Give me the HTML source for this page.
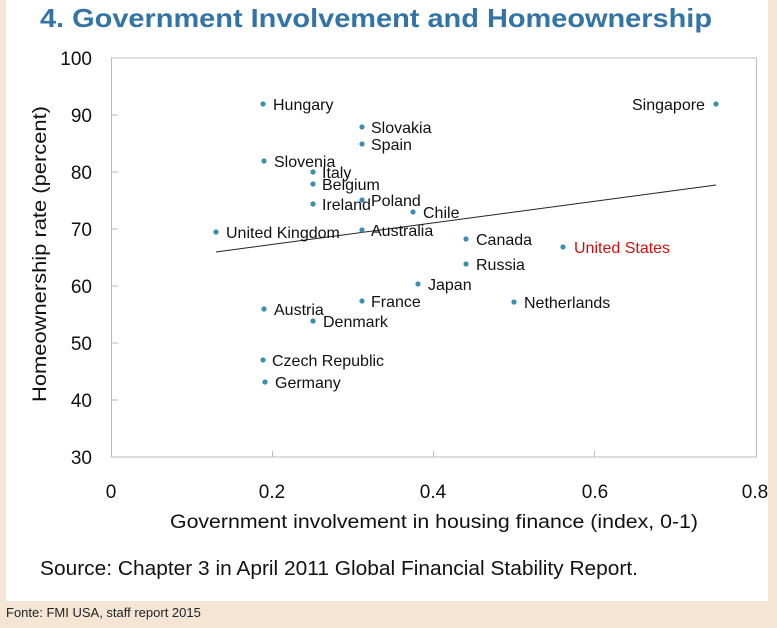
<!DOCTYPE html>
<html><head><meta charset="utf-8"><style>
html,body{margin:0;padding:0;background:#f5e5d5;}
svg{display:block}
</style></head><body>
<svg width="777" height="628" viewBox="0 0 777 628" xmlns="http://www.w3.org/2000/svg" font-family="Liberation Sans, sans-serif">
<rect x="0" y="0" width="777" height="628" fill="#f5e5d5"/>
<rect x="6" y="0" width="762" height="601" fill="#fff"/>
<text x="40" y="27" font-size="26" font-weight="bold" fill="#3374a6" textLength="672" lengthAdjust="spacingAndGlyphs">4. Government Involvement and Homeownership</text>
<rect x="111.5" y="58" width="645" height="399" fill="none" stroke="#bbb" stroke-width="1"/>
<g stroke="#bbb">
<line x1="111.5" y1="115" x2="118" y2="115"/><line x1="111.5" y1="172" x2="118" y2="172"/><line x1="111.5" y1="229" x2="118" y2="229"/><line x1="111.5" y1="286" x2="118" y2="286"/><line x1="111.5" y1="343" x2="118" y2="343"/><line x1="111.5" y1="400" x2="118" y2="400"/>
<line x1="272.5" y1="457" x2="272.5" y2="451"/><line x1="433.5" y1="457" x2="433.5" y2="451"/><line x1="594.5" y1="457" x2="594.5" y2="451"/>
</g>
<g font-size="19" fill="#111" text-anchor="end">
<text x="92" y="65">100</text><text x="92" y="122">90</text><text x="92" y="179">80</text><text x="92" y="236">70</text><text x="92" y="293">60</text><text x="92" y="350">50</text><text x="92" y="407">40</text><text x="92" y="464">30</text>
</g>
<g font-size="19" fill="#111" text-anchor="middle">
<text x="111" y="498">0</text><text x="272" y="498">0.2</text><text x="433" y="498">0.4</text><text x="595" y="498">0.6</text><text x="755" y="498">0.8</text>
</g>
<text transform="translate(46,254) rotate(-90)" font-size="19" fill="#111" text-anchor="middle" textLength="296" lengthAdjust="spacingAndGlyphs">Homeownership rate (percent)</text>
<text x="170" y="528" font-size="19" fill="#111" textLength="528" lengthAdjust="spacingAndGlyphs">Government involvement in housing finance (index, 0-1)</text>
<text x="40" y="575" font-size="20" fill="#111" textLength="598" lengthAdjust="spacingAndGlyphs">Source: Chapter 3 in April 2011 Global Financial Stability Report.</text>
<text x="6" y="617" font-size="13" fill="#222">Fonte: FMI USA, staff report 2015</text>
<line x1="216" y1="252" x2="716" y2="185" stroke="#222" stroke-width="1"/>
<g fill="#3a8fb0">
<circle cx="263" cy="104" r="2.6"/><circle cx="716" cy="104" r="2.6"/><circle cx="362" cy="127" r="2.6"/><circle cx="362" cy="144" r="2.6"/><circle cx="264" cy="161" r="2.6"/><circle cx="313" cy="172" r="2.6"/><circle cx="313" cy="184" r="2.6"/><circle cx="313" cy="204" r="2.6"/><circle cx="362" cy="200" r="2.6"/><circle cx="413" cy="212" r="2.6"/><circle cx="216" cy="232" r="2.6"/><circle cx="362" cy="230" r="2.6"/><circle cx="466" cy="239" r="2.6"/><circle cx="563" cy="247" r="2.6"/><circle cx="466" cy="264" r="2.6"/><circle cx="418" cy="284" r="2.6"/><circle cx="362" cy="301" r="2.6"/><circle cx="514" cy="302" r="2.6"/><circle cx="264" cy="309" r="2.6"/><circle cx="313" cy="321" r="2.6"/><circle cx="263" cy="360" r="2.6"/><circle cx="265" cy="382" r="2.6"/>
</g>
<g font-size="16" fill="#111">
<text x="273" y="110">Hungary</text>
<text x="632" y="110">Singapore</text>
<text x="371" y="133">Slovakia</text>
<text x="371" y="150">Spain</text>
<text x="274" y="167">Slovenia</text>
<text x="322" y="178">Italy</text>
<text x="322" y="190">Belgium</text>
<text x="322" y="210">Ireland</text>
<text x="371" y="206">Poland</text>
<text x="423" y="218">Chile</text>
<text x="226" y="238">United Kingdom</text>
<text x="371" y="236">Australia</text>
<text x="476" y="245">Canada</text>
<text x="574" y="253" fill="#d01010">United States</text>
<text x="476" y="270">Russia</text>
<text x="428" y="290">Japan</text>
<text x="371" y="307">France</text>
<text x="524" y="308">Netherlands</text>
<text x="274" y="315">Austria</text>
<text x="323" y="327">Denmark</text>
<text x="272" y="366">Czech Republic</text>
<text x="275" y="388">Germany</text>
</g>
</svg>
</body></html>
